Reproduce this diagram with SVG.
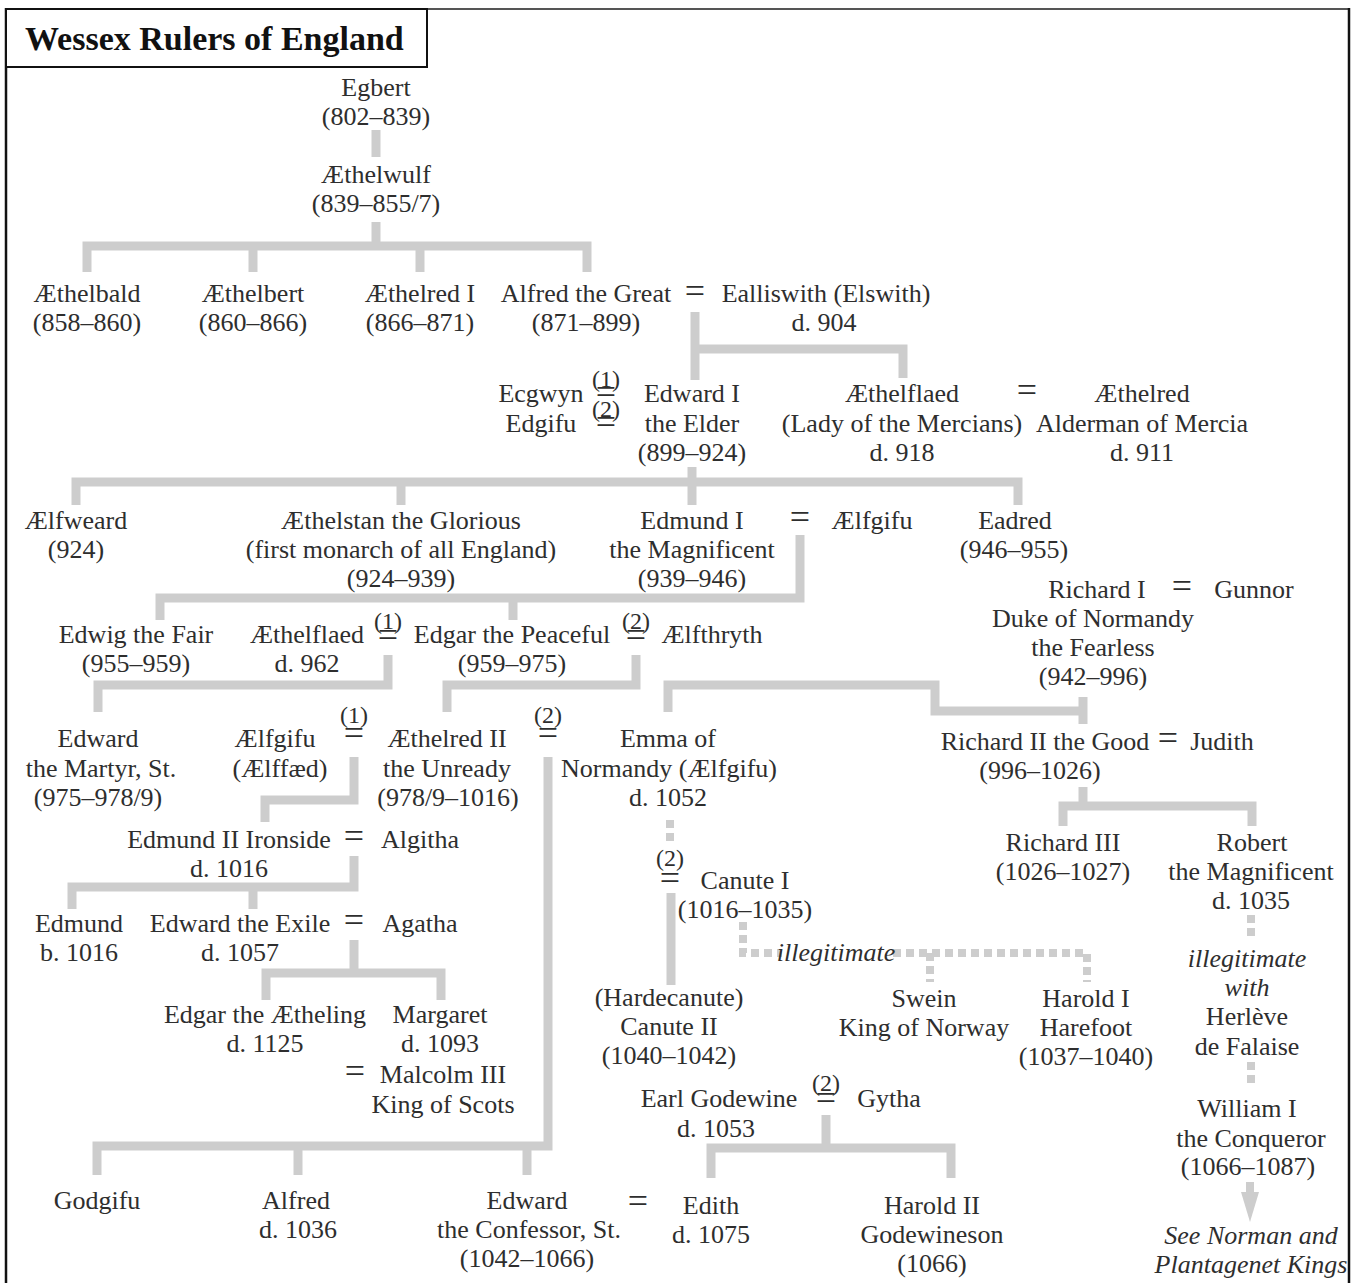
<svg xmlns="http://www.w3.org/2000/svg" width="1351" height="1283" viewBox="0 0 1351 1283">
<defs>
<style>
.t{font-family:"Liberation Serif","Times New Roman",serif;font-size:26px;fill:#2e2e2e;text-anchor:middle}
.i{font-style:italic}
.eq{font-family:"Liberation Serif","Times New Roman",serif;font-size:36px;fill:#2e2e2e;text-anchor:middle}
.n{font-family:"Liberation Serif","Times New Roman",serif;font-size:24px;fill:#2e2e2e;text-anchor:middle}
.q{font-size:36px}
.c{stroke:#cdcdcd;stroke-width:9;fill:none;stroke-linejoin:miter}
.d{stroke:#cdcdcd;stroke-width:8;fill:none;stroke-dasharray:8 5}
.title{font-family:"Liberation Serif","Times New Roman",serif;font-size:34px;font-weight:bold;fill:#111}
</style>
</defs>
<rect x="0" y="0" width="1351" height="1283" fill="#fff"/>
<g id="frame">
<line x1="6" y1="9" x2="1350" y2="9" stroke="#555" stroke-width="2"/>
<line x1="1349" y1="8" x2="1349" y2="1283" stroke="#111" stroke-width="2.5"/>
<line x1="6" y1="8" x2="6" y2="1283" stroke="#111" stroke-width="2.5"/>
<rect x="6" y="9" width="421" height="58" fill="#fff" stroke="#111" stroke-width="2"/>
<text class="title" x="25" y="50">Wessex Rulers of England</text>
</g>
<g id="connectors">
<path class="c" d="M376,130 V157"/>
<path class="c" d="M376,222 V246"/>
<path class="c" d="M87,272 V246 H587 V272"/>
<path class="c" d="M253,246 V272 M420,246 V272"/>
<path class="c" d="M695,312 V380"/>
<path class="c" d="M695,349 H903 V378"/>
<path class="c" d="M692,467 V505"/>
<path class="c" d="M76,505 V482 H1018 V505"/>
<path class="c" d="M401,482 V505"/>
<path class="c" d="M800,535 V598 H160 V620"/>
<path class="c" d="M513,598 V620"/>
<path class="c" d="M388,655 V685 H98 V712"/>
<path class="c" d="M636,655 V685 H447 V712"/>
<path class="c" d="M668,712 V685 H935 V711 H1083"/>
<path class="c" d="M1083,697 V724"/>
<path class="c" d="M354,757 V800 H265 V822"/>
<path class="c" d="M548,757 V1146 H97 V1175"/>
<path class="c" d="M298,1146 V1175 M527,1146 V1175"/>
<path class="c" d="M354,856 V887 H72 V909"/>
<path class="c" d="M253,887 V909"/>
<path class="c" d="M354,940 V973"/>
<path class="c" d="M266,1000 V973 H441 V1000"/>
<path class="c" d="M1083,787 V806"/>
<path class="c" d="M1063,826 V806 H1252 V826"/>
<path class="c" d="M671,893 V985"/>
<path class="c" d="M826,1115 V1148"/>
<path class="c" d="M711,1178 V1148 H951 V1178"/>
<path class="d" d="M670,820 V846"/>
<path class="d" d="M743,922 V953 H782"/>
<path class="d" d="M893,953 H1087 V982"/>
<path class="d" d="M930,953 V982"/>
<path class="d" d="M1251,915 V941"/>
<path class="d" d="M1251,1062 V1088"/>
<path d="M1250,1182 V1198" stroke="#cdcdcd" stroke-width="8" fill="none"/>
<polygon points="1241,1192 1259,1192 1250,1222" fill="#cdcdcd"/>
</g>
<g id="egbert"><text class="t"><tspan x="376" y="96">Egbert</tspan><tspan x="376" y="125">(802–839)</tspan></text></g>
<g id="aethelwulf"><text class="t"><tspan x="376" y="183">Æthelwulf</tspan><tspan x="376" y="212">(839–855/7)</tspan></text></g>
<g id="aethelbald"><text class="t"><tspan x="87" y="302">Æthelbald</tspan><tspan x="87" y="331">(858–860)</tspan></text></g>
<g id="aethelbert"><text class="t"><tspan x="253" y="302">Æthelbert</tspan><tspan x="253" y="331">(860–866)</tspan></text></g>
<g id="aethelred1"><text class="t"><tspan x="420" y="302">Æthelred I</tspan><tspan x="420" y="331">(866–871)</tspan></text></g>
<g id="alfred"><text class="t"><tspan x="586" y="302">Alfred the Great</tspan><tspan x="586" y="331">(871–899)</tspan></text></g>
<g id="m-alfred"><text class="eq" x="695" y="303">=</text></g>
<g id="ealliswith"><text class="t"><tspan x="826" y="302">Ealliswith (Elswith)</tspan><tspan x="824" y="331">d. 904</tspan></text></g>
<g id="ecgwyn"><text class="t"><tspan x="541" y="402">Ecgwyn</tspan><tspan x="541" y="432">Edgifu</tspan></text></g>
<g id="m-edward"><text class="n"><tspan x="606" y="387">(1)</tspan><tspan class="q" x="606" y="404">=</tspan><tspan x="606" y="417">(2)</tspan><tspan class="q" x="606" y="434">=</tspan></text></g>
<g id="edward1"><text class="t"><tspan x="692" y="402">Edward I</tspan><tspan x="692" y="432">the Elder</tspan><tspan x="692" y="461">(899–924)</tspan></text></g>
<g id="aethelflaed-m"><text class="t"><tspan x="902" y="402">Æthelflaed</tspan><tspan x="902" y="432">(Lady of the Mercians)</tspan><tspan x="902" y="461">d. 918</tspan></text></g>
<g id="m-aethelflaed"><text class="eq" x="1027" y="402">=</text></g>
<g id="aethelred-mercia"><text class="t"><tspan x="1142" y="402">Æthelred</tspan><tspan x="1142" y="432">Alderman of Mercia</tspan><tspan x="1142" y="461">d. 911</tspan></text></g>
<g id="aelfweard"><text class="t"><tspan x="76" y="529">Ælfweard</tspan><tspan x="76" y="558">(924)</tspan></text></g>
<g id="aethelstan"><text class="t"><tspan x="401" y="529">Æthelstan the Glorious</tspan><tspan x="401" y="558">(first monarch of all England)</tspan><tspan x="401" y="587">(924–939)</tspan></text></g>
<g id="edmund1"><text class="t"><tspan x="692" y="529">Edmund I</tspan><tspan x="692" y="558">the Magnificent</tspan><tspan x="692" y="587">(939–946)</tspan></text></g>
<g id="m-edmund1"><text class="eq" x="800" y="529">=</text></g>
<g id="aelfgifu1"><text class="t" x="872" y="529">Ælfgifu</text></g>
<g id="eadred"><text class="t"><tspan x="1015" y="529">Eadred</tspan><tspan x="1014" y="558">(946–955)</tspan></text></g>
<g id="richard1"><text class="t"><tspan x="1097" y="598">Richard I</tspan><tspan x="1093" y="627">Duke of Normandy</tspan><tspan x="1093" y="656">the Fearless</tspan><tspan x="1093" y="685">(942–996)</tspan></text></g>
<g id="m-richard1"><text class="eq" x="1182" y="598">=</text></g>
<g id="gunnor"><text class="t" x="1254" y="598">Gunnor</text></g>
<g id="edwig"><text class="t"><tspan x="136" y="643">Edwig the Fair</tspan><tspan x="136" y="672">(955–959)</tspan></text></g>
<g id="aethelflaed2"><text class="t"><tspan x="307" y="643">Æthelflaed</tspan><tspan x="307" y="672">d. 962</tspan></text></g>
<g id="m-edgar1"><text class="n"><tspan x="388" y="629">(1)</tspan><tspan class="q" x="388" y="647">=</tspan></text></g>
<g id="edgar"><text class="t"><tspan x="512" y="643">Edgar the Peaceful</tspan><tspan x="512" y="672">(959–975)</tspan></text></g>
<g id="m-edgar2"><text class="n"><tspan x="636" y="629">(2)</tspan><tspan class="q" x="636" y="647">=</tspan></text></g>
<g id="aelfthryth"><text class="t" x="712" y="643">Ælfthryth</text></g>
<g id="edward-martyr"><text class="t"><tspan x="98" y="747">Edward</tspan><tspan x="101" y="777">the Martyr, St.</tspan><tspan x="98" y="806">(975–978/9)</tspan></text></g>
<g id="aelfgifu2"><text class="t"><tspan x="275" y="747">Ælfgifu</tspan><tspan x="280" y="777">(Ælffæd)</tspan></text></g>
<g id="m-aethelred2-1"><text class="n"><tspan x="354" y="723">(1)</tspan><tspan class="q" x="354" y="745">=</tspan></text></g>
<g id="aethelred2"><text class="t"><tspan x="447" y="747">Æthelred II</tspan><tspan x="447" y="777">the Unready</tspan><tspan x="448" y="806">(978/9–1016)</tspan></text></g>
<g id="m-aethelred2-2"><text class="n"><tspan x="548" y="723">(2)</tspan><tspan class="q" x="548" y="745">=</tspan></text></g>
<g id="emma"><text class="t"><tspan x="668" y="747">Emma of</tspan><tspan x="669" y="777">Normandy (Ælfgifu)</tspan><tspan x="668" y="806">d. 1052</tspan></text></g>
<g id="richard2"><text class="t"><tspan x="1045" y="750">Richard II the Good</tspan><tspan x="1040" y="779">(996–1026)</tspan></text></g>
<g id="m-richard2"><text class="eq" x="1168" y="750">=</text></g>
<g id="judith"><text class="t" x="1222" y="750">Judith</text></g>
<g id="edmund2"><text class="t"><tspan x="229" y="848">Edmund II Ironside</tspan><tspan x="229" y="877">d. 1016</tspan></text></g>
<g id="m-edmund2"><text class="eq" x="354" y="848">=</text></g>
<g id="algitha"><text class="t" x="420" y="848">Algitha</text></g>
<g id="richard3"><text class="t"><tspan x="1063" y="851">Richard III</tspan><tspan x="1063" y="880">(1026–1027)</tspan></text></g>
<g id="robert"><text class="t"><tspan x="1252" y="851">Robert</tspan><tspan x="1251" y="880">the Magnificent</tspan><tspan x="1251" y="909">d. 1035</tspan></text></g>
<g id="m-canute"><text class="n"><tspan x="670" y="866">(2)</tspan><tspan class="q" x="670" y="890">=</tspan></text></g>
<g id="canute1"><text class="t"><tspan x="745" y="889">Canute I</tspan><tspan x="745" y="918">(1016–1035)</tspan></text></g>
<g id="edmund"><text class="t"><tspan x="79" y="932">Edmund</tspan><tspan x="79" y="961">b. 1016</tspan></text></g>
<g id="edward-exile"><text class="t"><tspan x="240" y="932">Edward the Exile</tspan><tspan x="240" y="961">d. 1057</tspan></text></g>
<g id="m-exile"><text class="eq" x="354" y="932">=</text></g>
<g id="agatha"><text class="t" x="420" y="932">Agatha</text></g>
<g id="illeg1"><text class="t i" x="836" y="961">illegitimate</text></g>
<g id="illeg2"><text class="t"><tspan class="i" x="1247" y="967">illegitimate</tspan><tspan class="i" x="1247" y="996">with</tspan><tspan x="1247" y="1025">Herlève</tspan><tspan x="1247" y="1055">de Falaise</tspan></text></g>
<g id="hardecanute"><text class="t"><tspan x="669" y="1006">(Hardecanute)</tspan><tspan x="669" y="1035">Canute II</tspan><tspan x="669" y="1064">(1040–1042)</tspan></text></g>
<g id="swein"><text class="t"><tspan x="924" y="1007">Swein</tspan><tspan x="924" y="1036">King of Norway</tspan></text></g>
<g id="harold1"><text class="t"><tspan x="1086" y="1007">Harold I</tspan><tspan x="1086" y="1036">Harefoot</tspan><tspan x="1086" y="1065">(1037–1040)</tspan></text></g>
<g id="edgar-aetheling"><text class="t"><tspan x="265" y="1023">Edgar the Ætheling</tspan><tspan x="265" y="1052">d. 1125</tspan></text></g>
<g id="margaret"><text class="t"><tspan x="440" y="1023">Margaret</tspan><tspan x="440" y="1052">d. 1093</tspan></text></g>
<g id="m-margaret"><text class="eq" x="355" y="1083">=</text></g>
<g id="malcolm"><text class="t"><tspan x="443" y="1083">Malcolm III</tspan><tspan x="443" y="1113">King of Scots</tspan></text></g>
<g id="godewine"><text class="t"><tspan x="719" y="1107">Earl Godewine</tspan><tspan x="716" y="1137">d. 1053</tspan></text></g>
<g id="m-godewine"><text class="n"><tspan x="826" y="1091">(2)</tspan><tspan class="q" x="826" y="1110">=</tspan></text></g>
<g id="gytha"><text class="t" x="889" y="1107">Gytha</text></g>
<g id="william"><text class="t"><tspan x="1247" y="1117">William I</tspan><tspan x="1251" y="1147">the Conqueror</tspan><tspan x="1248" y="1175">(1066–1087)</tspan></text></g>
<g id="see-norman"><text class="t i"><tspan x="1251" y="1244">See Norman and</tspan><tspan x="1251" y="1273">Plantagenet Kings</tspan></text></g>
<g id="godgifu"><text class="t" x="97" y="1209">Godgifu</text></g>
<g id="alfred2"><text class="t"><tspan x="296" y="1209">Alfred</tspan><tspan x="298" y="1238">d. 1036</tspan></text></g>
<g id="edward-confessor"><text class="t"><tspan x="527" y="1209">Edward</tspan><tspan x="529" y="1238">the Confessor, St.</tspan><tspan x="527" y="1267">(1042–1066)</tspan></text></g>
<g id="m-confessor"><text class="eq" x="638" y="1213">=</text></g>
<g id="edith"><text class="t"><tspan x="711" y="1214">Edith</tspan><tspan x="711" y="1243">d. 1075</tspan></text></g>
<g id="harold2"><text class="t"><tspan x="932" y="1214">Harold II</tspan><tspan x="932" y="1243">Godewineson</tspan><tspan x="932" y="1272">(1066)</tspan></text></g>
</svg>
